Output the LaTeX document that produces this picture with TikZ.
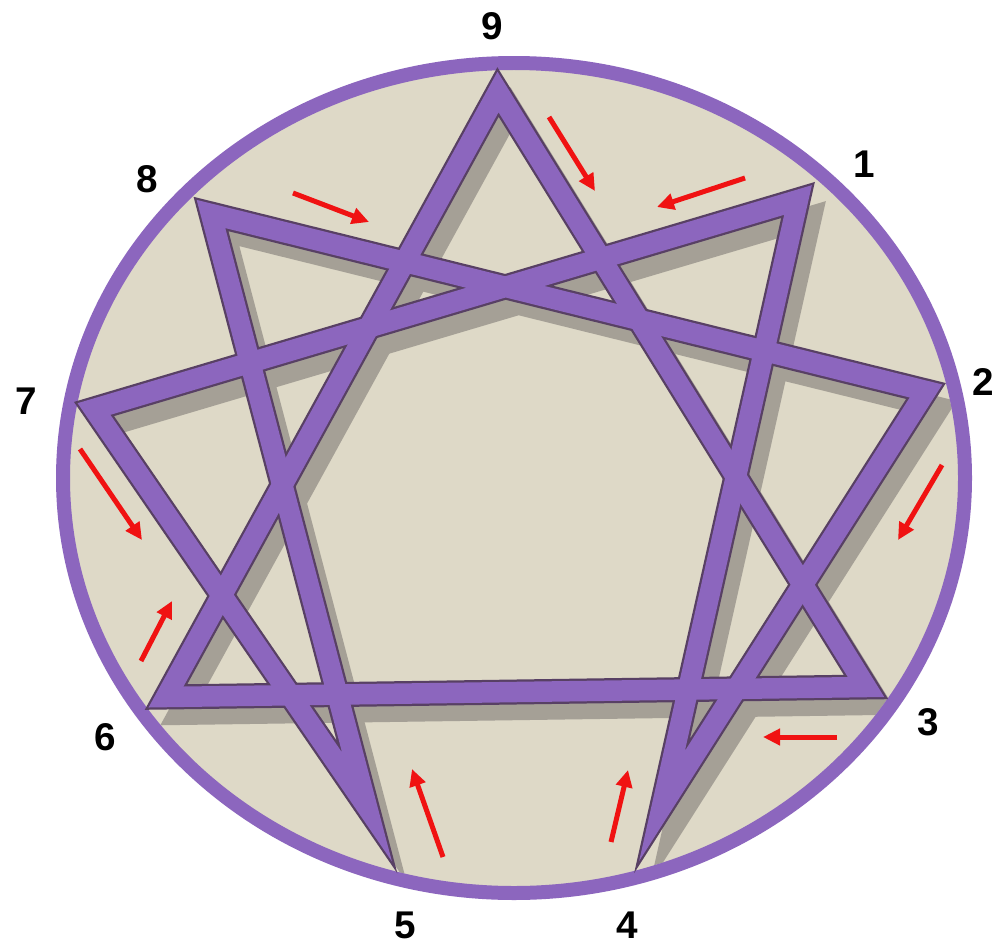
\documentclass[tikz,border=0pt]{standalone}
\usepackage{fontspec}
\setmainfont{Liberation Sans}
\usetikzlibrary{arrows.meta}
\definecolor{paper}{RGB}{222,217,199}
\definecolor{lilac}{RGB}{140,102,190}
\definecolor{lilacdark}{RGB}{88,64,100}
\definecolor{shade}{RGB}{165,160,150}
\definecolor{arrowred}{RGB}{240,18,18}
\tikzset{
    ring/.style={
        draw=lilac,
        line width=0.28cm
    },
    stripedge/.style={draw=lilacdark, line width=0.5cm, line join=miter},
    stripfill/.style={draw=lilac, line width=0.41cm, line join=miter},
    stripshadow/.style={draw=shade, line width=0.44cm, line join=miter},
    pointer/.style={-{Triangle[length=0.34cm, width=0.32cm]}, draw=arrowred, line width=0.1cm},
    digit/.style={font=\fontsize{22}{24}\selectfont\bfseries, inner sep=0pt}
}

\begin{document}
\begin{tikzpicture}[x=0.02cm, y=-0.02cm]
\useasboundingbox (0,0) rectangle (996,946);
\fill[white] (0,0) rectangle (996,946);
\fill[paper] (514,478) ellipse [x radius=451, y radius=415];

% points of the star
\coordinate (v9) at (498,92);
\coordinate (v1) at (798,200);
\coordinate (v2) at (926,391);
\coordinate (v3) at (866,687);
\coordinate (v4) at (662,806);
\coordinate (v5) at (367,807);
\coordinate (v6) at (166,697);
\coordinate (v7) at (94,409);
\coordinate (v8) at (211,214);

% shadows
\begin{scope}
\clip (514,478) ellipse [x radius=444, y radius=408];
\begin{scope}[transform canvas={shift={(13,17)}}]
\draw[stripshadow] (v9) -- (v3) -- (v6) -- cycle;
\draw[stripshadow] (v1) -- (v4) -- (v2) -- (v8) -- (v5) -- (v7) -- cycle;
\end{scope}
\end{scope}

\draw[ring] (514,478) ellipse [x radius=451, y radius=415];

% triangle and hexad
\draw[stripedge] (v9) -- (v3) -- (v6) -- cycle;
\draw[stripedge] (v1) -- (v4) -- (v2) -- (v8) -- (v5) -- (v7) -- cycle;
\draw[stripfill] (v9) -- (v3) -- (v6) -- cycle;
\draw[stripfill] (v1) -- (v4) -- (v2) -- (v8) -- (v5) -- (v7) -- cycle;

% red arrows
\coordinate (p1s) at (549,117); \coordinate (p1e) at (595,191);
\coordinate (p2s) at (745,178); \coordinate (p2e) at (657,207);
\coordinate (p3s) at (293,193); \coordinate (p3e) at (369,222);
\coordinate (p4s) at (942,465); \coordinate (p4e) at (898,540);
\coordinate (p5s) at (837,737); \coordinate (p5e) at (763,737);
\coordinate (p6s) at (611,842); \coordinate (p6e) at (628,770);
\coordinate (p7s) at (443,857); \coordinate (p7e) at (412,769);
\coordinate (p8s) at (141,661); \coordinate (p8e) at (172,601);
\coordinate (p9s) at (80,449);  \coordinate (p9e) at (142,540);
\draw[pointer] (p1s) -- (p1e);
\draw[pointer] (p2s) -- (p2e);
\draw[pointer] (p3s) -- (p3e);
\draw[pointer] (p4s) -- (p4e);
\draw[pointer] (p5s) -- (p5e);
\draw[pointer] (p6s) -- (p6e);
\draw[pointer] (p7s) -- (p7e);
\draw[pointer] (p8s) -- (p8e);
\draw[pointer] (p9s) -- (p9e);

% numbers
\node[digit] (n9) at (492,26) {9};
\node[digit] (n1) at (864,164) {1};
\node[digit] (n2) at (983,382) {2};
\node[digit] (n3) at (928,722) {3};
\node[digit] (n4) at (627,925) {4};
\node[digit] (n5) at (405,925) {5};
\node[digit] (n6) at (105,737) {6};
\node[digit] (n7) at (26,401) {7};
\node[digit] (n8) at (147,179) {8};
\end{tikzpicture}
\end{document}
